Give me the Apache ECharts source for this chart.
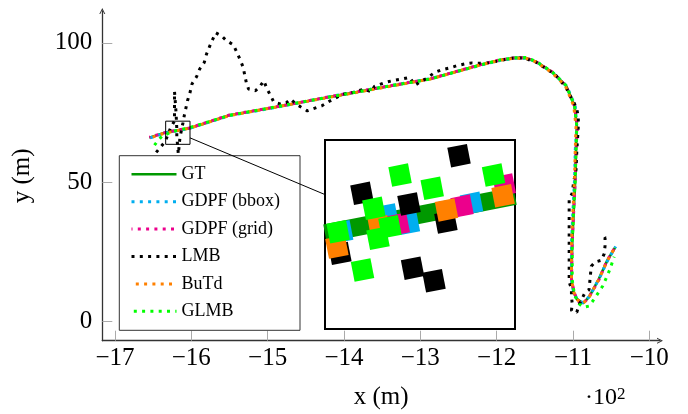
<!DOCTYPE html>
<html>
<head>
    <meta charset="UTF-8">
    <title></title>
    <style>
        html, body { margin: 0; padding: 0; background: #fff; }
        #container { width: 688px; height: 414px; }
    </style>
</head>
<body>
    <div id="container"></div>
    <script src="https://cdn.jsdelivr.net/npm/echarts@6.0.0/dist/echarts.min.js"></script>
    <script>
        // x values are in units of 10^2 m
        var xTicks = [-17, -16, -15, -14, -13, -12, -11, -10];
        var yTicks = [0, 50, 100];
        var names = ['GT', 'GDPF (bbox)', 'GDPF (grid)', 'LMB', 'BuTd', 'GLMB'];

        var gt = [[-16.55, 66.0], [-16.34, 67.8], [-16.02, 69.4], [-15.5, 74.0], [-14.92, 76.8], [-14.14, 80.8],
            [-13.5, 84.0], [-12.87, 87.0], [-12.22, 92.0], [-11.95, 93.8], [-11.75, 94.6], [-11.62, 94.6],
            [-11.48, 93.2], [-11.27, 89.4], [-11.09, 84.6], [-10.98, 77.4], [-10.95, 70.1], [-10.96, 61.7],
            [-10.97, 50.9], [-10.99, 40.0], [-11.01, 28.0], [-11.02, 15.0], [-10.99, 10.5], [-10.95, 8.2],
            [-10.87, 6.6], [-10.79, 8.8], [-10.66, 15.4], [-10.55, 22.0], [-10.45, 26.5]];
        var gdpfBbox = [[-16.54, 65.9], [-16.33, 67.7], [-16.03, 69.3], [-15.5, 73.9], [-14.92, 76.7], [-14.14, 80.9],
            [-13.5, 84.1], [-12.87, 87.1], [-12.22, 91.9], [-11.95, 93.7], [-11.75, 94.5], [-11.6, 94.5],
            [-11.47, 93.0], [-11.26, 89.2], [-11.08, 84.4], [-10.97, 77.2], [-10.95, 70.0], [-10.97, 61.5],
            [-10.98, 50.6], [-11.0, 40.0], [-11.02, 28.0], [-11.02, 15.2], [-10.99, 10.3], [-10.94, 7.9],
            [-10.87, 6.8], [-10.78, 9.2], [-10.65, 15.8], [-10.54, 22.3], [-10.44, 27.0]];
        var gdpfGrid = [[-16.55, 66.1], [-16.33, 67.9], [-16.02, 69.5], [-15.5, 74.1], [-14.92, 76.9], [-14.14, 80.9],
            [-13.5, 84.1], [-12.87, 87.1], [-12.22, 92.1], [-11.95, 93.9], [-11.75, 94.7], [-11.61, 94.6],
            [-11.48, 93.1], [-11.27, 89.5], [-11.09, 84.5], [-10.98, 77.3], [-10.94, 70.2], [-10.96, 61.6],
            [-10.97, 50.8], [-10.99, 40.1], [-11.01, 28.1], [-11.02, 15.1], [-10.98, 10.2], [-10.94, 7.6],
            [-10.88, 6.3], [-10.8, 8.4], [-10.66, 15.0], [-10.56, 21.6], [-10.46, 26.2]];
        var lmb = [[-16.46, 60.7], [-16.34, 64.7], [-16.31, 66.9], [-16.27, 69.6], [-16.22, 72.0], [-16.22, 78.0],
            [-16.22, 82.5], [-16.2, 75.0], [-16.19, 69.1], [-16.19, 66.3], [-16.18, 63.4], [-16.17, 60.1],
            [-16.15, 65.7], [-16.13, 68.6], [-16.11, 71.2], [-16.09, 74.2], [-16.05, 79.2], [-16.02, 81.8],
            [-15.99, 85.3], [-15.93, 87.9], [-15.89, 90.6], [-15.83, 93.0], [-15.8, 96.0], [-15.76, 98.7],
            [-15.72, 101.2], [-15.68, 103.6], [-15.6, 102.4], [-15.54, 100.8], [-15.45, 99.3], [-15.4, 96.4],
            [-15.36, 93.9], [-15.32, 91.2], [-15.3, 88.4], [-15.28, 85.8], [-15.25, 83.4], [-15.19, 83.0],
            [-15.16, 82.8], [-15.1, 84.4], [-15.05, 86.4], [-15.01, 83.6], [-14.96, 81.0], [-14.92, 78.8],
            [-14.83, 78.0], [-14.75, 78.6], [-14.7, 79.8], [-14.64, 78.3], [-14.57, 77.1], [-14.48, 75.6],
            [-14.4, 76.4], [-14.29, 77.4], [-14.18, 79.2], [-14.01, 81.6], [-13.88, 82.2], [-13.74, 83.4],
            [-13.64, 82.4], [-13.6, 84.4], [-13.46, 85.8], [-13.35, 86.5], [-13.24, 87.0], [-13.14, 87.6],
            [-13.07, 84.8], [-13.0, 86.0], [-12.92, 87.2], [-12.81, 89.4], [-12.72, 90.3], [-12.61, 91.0],
            [-12.52, 91.8], [-12.42, 92.4], [-12.32, 92.8], [-12.16, 92.6], [-12.0, 93.4], [-11.8, 94.5],
            [-11.66, 94.6], [-11.5, 93.3], [-11.3, 89.8], [-11.22, 88.2], [-11.09, 84.0], [-11.05, 81.6],
            [-10.99, 78.8], [-10.95, 76.2], [-10.93, 73.5], [-10.93, 70.1], [-10.95, 61.1], [-10.96, 54.5],
            [-10.99, 50.3], [-11.01, 46.1], [-11.05, 43.9], [-11.05, 14.2], [-11.02, 11.8], [-11.02, 9.4],
            [-11.01, 6.4], [-11.02, 4.0], [-10.95, 3.4], [-10.92, 6.1], [-10.85, 10.0], [-10.79, 11.4],
            [-10.77, 17.2], [-10.76, 19.9], [-10.71, 21.4], [-10.63, 22.0], [-10.59, 24.4], [-10.58, 27.2],
            [-10.58, 30.2], [-10.55, 29.5]];
        var butd = [[-16.56, 65.7], [-16.34, 67.7], [-16.02, 69.4], [-15.5, 73.9], [-14.92, 76.8], [-14.14, 80.7],
            [-13.5, 83.9], [-12.87, 87.0], [-12.22, 92.0], [-11.95, 93.8], [-11.75, 94.5], [-11.62, 94.5],
            [-11.49, 93.2], [-11.28, 89.4], [-11.1, 84.6], [-10.99, 77.4], [-10.96, 70.0], [-10.97, 61.8],
            [-10.98, 51.0], [-11.0, 40.0], [-11.02, 28.0], [-11.02, 15.0], [-10.99, 10.6], [-10.95, 8.0],
            [-10.87, 6.5], [-10.79, 8.7], [-10.66, 15.3], [-10.55, 21.9], [-10.45, 26.6]];
        var glmb = [[-16.5, 62.6], [-16.45, 64.5], [-16.38, 66.6], [-16.3, 67.5], [-16.2, 68.5], [-16.02, 69.6],
            [-15.5, 74.0], [-14.92, 76.9], [-14.14, 80.8], [-13.5, 84.1], [-12.87, 87.0], [-12.22, 92.0],
            [-11.95, 93.9], [-11.75, 94.6], [-11.62, 94.7], [-11.48, 93.3], [-11.27, 89.5], [-11.09, 84.7],
            [-10.98, 77.5], [-10.95, 70.2], [-10.96, 61.8], [-10.97, 51.0], [-10.99, 40.0], [-11.01, 28.0],
            [-11.01, 15.0], [-10.98, 9.5], [-10.92, 6.4], [-10.86, 5.2], [-10.79, 5.6], [-10.73, 7.8],
            [-10.61, 12.8], [-10.52, 18.5], [-10.46, 23.3]];

        // magnified window near the start of the track
        var zoomX = [-16.336, -16.017];
        var zoomY = [63.6, 71.9];
        var zoomGT = [[-16.336, 67.80], [-16.017, 69.44]];
        var zoomBbox = [[-16.308, 67.87], [-16.232, 68.61], [-16.196, 68.24], [-16.090, 69.12]];
        var zoomGrid = [[-16.213, 68.20], [-16.106, 69.00], [-16.035, 69.92]];
        var zoomLMB = [[-16.111, 71.21], [-16.274, 69.56], [-16.195, 69.09], [-16.133, 68.30],
            [-16.311, 66.92], [-16.189, 66.27], [-16.153, 65.72]];
        var zoomButd = [[-16.245, 68.09], [-16.132, 68.83], [-16.037, 69.45], [-16.316, 67.20]];
        var zoomGLMB = [[-16.210, 70.36], [-16.156, 69.78], [-16.053, 70.36], [-16.254, 68.90],
            [-16.247, 67.58], [-16.273, 66.19], [-16.314, 67.87], [-16.227, 68.09]];

        var colors = ['#009900', '#00aeef', '#ec008c', '#000000', '#ff8000', '#00ff00'];
        var font = '"Liberation Serif", "Times New Roman", serif';
        var arrow = 'path://M0,10 L5,0 L10,10 L8.4,10 L5,3.2 L1.6,10 Z';

        function minus(v) {
            return String(v).replace('-', '\u2212');
        }

        function mainLine(i, data, offset) {
            var solid = i === 0;
            return {
                name: names[i],
                type: 'line',
                data: data,
                symbol: 'none',
                itemStyle: { color: colors[i] },
                lineStyle: {
                    color: colors[i],
                    width: solid ? 2.6 : 3,
                    type: solid ? 'solid' : [3, 5.3],
                    dashOffset: offset
                }
            };
        }

        function zoomDots(i, data) {
            return {
                name: names[i] + ' zoom',
                type: 'scatter',
                xAxisIndex: 1,
                yAxisIndex: 1,
                z: 4,
                data: data,
                symbol: 'rect',
                symbolSize: 20,
                symbolRotate: 11,
                itemStyle: { color: colors[i], opacity: 1 }
            };
        }

        var chart = echarts.init(document.getElementById('container'));
        chart.setOption({
            animation: false,
            textStyle: { fontFamily: font },
            grid: [
                { left: 102.3, top: 11, right: 28, bottom: 73.3, outerBoundsMode: 'none' },
                { left: 325, top: 140, width: 190, height: 189, show: true, borderColor: '#000',
                  borderWidth: 2, backgroundColor: '#fff', outerBoundsMode: 'none' }
            ],
            legend: {
                data: names,
                orient: 'vertical',
                left: 119.3,
                top: 155.7,
                itemWidth: 45,
                itemHeight: 18,
                itemGap: 9.4,
                padding: [9.6, 20, 10, 10.7],
                borderColor: '#333',
                borderWidth: 1,
                borderRadius: 0,
                backgroundColor: '#fff',
                selectedMode: false,
                itemStyle: { opacity: 0 },
                lineStyle: { width: 'inherit' },
                textStyle: { fontFamily: font, fontSize: 18, color: '#000' }
            },
            xAxis: [
                {
                    type: 'value', gridIndex: 0, min: -17.166, max: -9.86,
                    name: 'x (m)', nameLocation: 'middle', nameGap: 44,
                    nameTextStyle: { fontFamily: font, fontSize: 25, color: '#000' },
                    axisLine: { show: true, onZero: false, symbol: ['none', arrow], symbolSize: [8, 6],
                        lineStyle: { color: '#333', width: 1.3 } },
                    axisTick: { show: true, inside: true, length: 10, customValues: xTicks,
                        lineStyle: { color: '#aaa', width: 1 } },
                    axisLabel: { customValues: xTicks, margin: 5, fontFamily: font, fontSize: 25, color: '#000',
                        formatter: minus },
                    splitLine: { show: false }
                },
                { type: 'value', gridIndex: 1, min: zoomX[0], max: zoomX[1], show: false }
            ],
            yAxis: [
                {
                    type: 'value', gridIndex: 0, min: -6.81, max: 111.4,
                    name: 'y (m)', nameLocation: 'middle', nameGap: 67,
                    nameTextStyle: { fontFamily: font, fontSize: 25, color: '#000' },
                    axisLine: { show: true, onZero: false, symbol: ['none', arrow], symbolSize: [8, 6],
                        lineStyle: { color: '#333', width: 1.3 } },
                    axisTick: { show: true, inside: true, length: 10, customValues: yTicks,
                        lineStyle: { color: '#aaa', width: 1 } },
                    axisLabel: { customValues: yTicks, margin: 10, fontFamily: font, fontSize: 25, color: '#000',
                        formatter: minus },
                    splitLine: { show: false }
                },
                { type: 'value', gridIndex: 1, min: zoomY[0], max: zoomY[1], show: false }
            ],
            series: [
                mainLine(0, gt, 0),
                mainLine(1, gdpfBbox, 0),
                mainLine(2, gdpfGrid, 2),
                mainLine(3, lmb, 0),
                mainLine(4, butd, 4),
                mainLine(5, glmb, 6),
                {
                    name: 'GT zoom', type: 'line', xAxisIndex: 1, yAxisIndex: 1, data: zoomGT, z: 2,
                    symbol: 'none', lineStyle: { color: colors[0], width: 18 }
                },
                zoomDots(1, zoomBbox),
                zoomDots(2, zoomGrid),
                zoomDots(3, zoomLMB),
                zoomDots(4, zoomButd),
                zoomDots(5, zoomGLMB)
            ]
        });

        // spy box on the main axes and the line that joins it to the magnified view
        var a = chart.convertToPixel({ gridIndex: 0 }, [zoomX[0], zoomY[1]]);
        var b = chart.convertToPixel({ gridIndex: 0 }, [zoomX[1], zoomY[0]]);
        var c = chart.convertToPixel({ gridIndex: 1 }, [zoomX[0], zoomY[1]]);
        var d = chart.convertToPixel({ gridIndex: 1 }, [zoomX[1], zoomY[0]]);
        var c1 = [(a[0] + b[0]) / 2, (a[1] + b[1]) / 2];
        var c2 = [(c[0] + d[0]) / 2, (c[1] + d[1]) / 2];
        var slope = (c2[1] - c1[1]) / (c2[0] - c1[0]);

        chart.setOption({
            graphic: [
                {
                    type: 'rect', z: 100,
                    shape: { x: a[0], y: a[1], width: b[0] - a[0], height: b[1] - a[1] },
                    style: { fill: 'none', stroke: '#000', lineWidth: 1 }
                },
                {
                    type: 'line', z: 100,
                    shape: { x1: b[0], y1: c1[1] + slope * (b[0] - c1[0]),
                             x2: c[0], y2: c1[1] + slope * (c[0] - c1[0]) },
                    style: { stroke: '#000', lineWidth: 1 }
                },
                {
                    type: 'text', left: 585, top: 386, z: 100,
                    style: {
                        text: '{a|\u00b710}{b|2}',
                        rich: {
                            a: { fontFamily: font, fontSize: 24, fill: '#000', verticalAlign: 'bottom' },
                            b: { fontFamily: font, fontSize: 17, fill: '#000', verticalAlign: 'top' }
                        }
                    }
                }
            ]
        });
    </script>
</body>
</html>
